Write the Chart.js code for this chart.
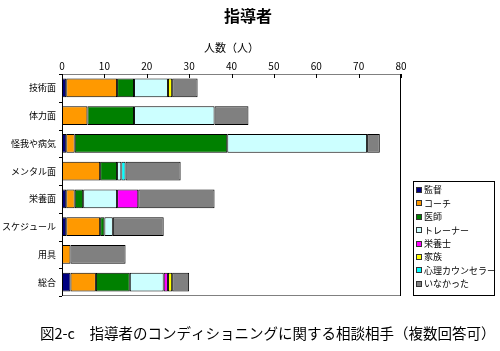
<!DOCTYPE html>
<html>
<head>
<meta charset="utf-8">
<script src="https://cdn.jsdelivr.net/npm/chart.js@4/dist/chart.umd.min.js"></script>
<style>
  html, body { margin: 0; padding: 0; background: #fff; }
  #wrap { width: 500px; height: 351px; position: relative; }
</style>
</head>
<body>
<div id="wrap"><canvas id="chart" width="500" height="351"></canvas></div>
<script>
// categories (top to bottom)
var categories = ['技術面', '体力面', '怪我や病気', 'メンタル面', '栄養面', 'スケジュール', '用具', '総合'];

// series values (people)
var kantoku   = [1, 0, 1, 0, 1, 1, 0, 2];
var coach     = [12, 6, 2, 9, 2, 8, 2, 6];
var ishi      = [4, 11, 36, 4, 2, 1, 0, 8];
var trainer   = [8, 19, 33, 1, 8, 2, 0, 8];
var eiyoushi  = [0, 0, 0, 0, 5, 0, 0, 1];
var kazoku    = [1, 0, 0, 0, 0, 0, 0, 1];
var shinri    = [0, 0, 0, 1, 0, 0, 0, 0];
var inakatta  = [6, 8, 3, 13, 18, 12, 13, 4];

var seriesNames = ['監督', 'コーチ', '医師', 'トレーナー', '栄養士', '家族', '心理カウンセラー', 'いなかった'];
var seriesData = [kantoku, coach, ishi, trainer, eiyoushi, kazoku, shinri, inakatta];
var seriesColors = ['#000080', '#FF9900', '#008000', '#CCFFFF', '#FF00FF', '#FFFF00', '#00FFFF', '#808080'];

var xTicks = [0, 10, 20, 30, 40, 50, 60, 70, 80];

var FONT = '"MS PGothic", "Noto Sans CJK JP", sans-serif';

var datasets = seriesNames.map(function(name, i) {
    return {
        label: name,
        data: seriesData[i],
        backgroundColor: seriesColors[i],
        borderColor: '#000000',
        borderWidth: 1,
        borderSkipped: false,
        categoryPercentage: 1.0,
        barPercentage: 0.68
    };
});

// frame, inward ticks, title, caption and legend box
var extras = {
    id: 'extras',
    afterDraw: function(chart) {
        var ctx = chart.ctx;
        var a = chart.chartArea;
        var xs = chart.scales.x;
        var ys = chart.scales.y;
        ctx.save();

        // frame
        ctx.lineWidth = 1;
        ctx.strokeStyle = '#808080';
        ctx.beginPath();
        ctx.moveTo(a.left, a.top + 0.5); ctx.lineTo(a.right, a.top + 0.5);
        ctx.moveTo(a.left, a.bottom - 0.5); ctx.lineTo(a.right, a.bottom - 0.5);
        ctx.stroke();
        ctx.strokeStyle = '#000000';
        ctx.beginPath();
        ctx.moveTo(a.left + 0.5, a.top); ctx.lineTo(a.left + 0.5, a.bottom);
        ctx.moveTo(a.right - 0.5, a.top); ctx.lineTo(a.right - 0.5, a.bottom);
        ctx.stroke();

        // inward ticks on top axis
        ctx.strokeStyle = '#000000';
        ctx.beginPath();
        xTicks.forEach(function(v) {
            var px = Math.round(xs.getPixelForValue(v)) + 0.5;
            ctx.moveTo(px, a.top);
            ctx.lineTo(px, a.top + 4);
        });
        // small ticks on category boundaries of left axis
        for (var i = 0; i <= categories.length; i++) {
            var py = Math.round(ys.getPixelForValue(i - 0.5)) + 0.5;
            ctx.moveTo(a.left - 3, py);
            ctx.lineTo(a.left, py);
        }
        ctx.stroke();

        // title
        ctx.fillStyle = '#000000';
        ctx.textAlign = 'center';
        ctx.textBaseline = 'middle';
        ctx.font = 'bold 16px ' + FONT;
        ctx.fillText('指導者', 248, 16);

        // caption
        ctx.font = '14.5px ' + FONT;
        ctx.textAlign = 'left';
        ctx.fillText('図2-c　指導者のコンディショニングに関する相談相手（複数回答可）', 40, 333);

        // legend
        var lx = 413, ly = 181, lw = 81, lh = 114;
        ctx.strokeStyle = '#000000';
        ctx.strokeRect(lx + 0.5, ly + 0.5, lw, lh);
        ctx.font = '9px ' + FONT;
        ctx.textBaseline = 'middle';
        seriesNames.forEach(function(name, i) {
            var cy = ly + 9 + i * 13.4;
            ctx.fillStyle = seriesColors[i];
            ctx.fillRect(lx + 3, Math.round(cy) - 3, 6, 6);
            ctx.strokeStyle = '#333333';
            ctx.strokeRect(lx + 3.5, Math.round(cy) - 2.5, 5, 5);
            ctx.fillStyle = '#000000';
            ctx.fillText(name, lx + 11, cy);
        });

        ctx.restore();
    }
};

new Chart(document.getElementById('chart'), {
    type: 'bar',
    data: { labels: categories, datasets: datasets },
    options: {
        indexAxis: 'y',
        responsive: false,
        animation: false,
        layout: { padding: { top: 30, right: 99, bottom: 55, left: 0 } },
        plugins: {
            legend: { display: false },
            tooltip: { enabled: false }
        },
        scales: {
            x: {
                position: 'top',
                stacked: true,
                min: 0,
                max: 80,
                ticks: { stepSize: 10, color: '#000', font: { family: FONT, size: 10 }, padding: 2 },
                grid: { display: false, drawTicks: false },
                border: { display: false },
                title: {
                    display: true,
                    text: '人数（人）',
                    color: '#000',
                    font: { family: FONT, size: 11 },
                    padding: { top: 11, bottom: 0 }
                },
                afterFit: function(scale) { scale.height = 44; }
            },
            y: {
                stacked: true,
                ticks: { color: '#000', font: { family: FONT, size: 9 }, padding: 6 },
                grid: { display: false, drawTicks: false },
                border: { display: false },
                afterFit: function(scale) { scale.width = 62; }
            }
        }
    },
    plugins: [extras]
});
</script>
</body>
</html>
